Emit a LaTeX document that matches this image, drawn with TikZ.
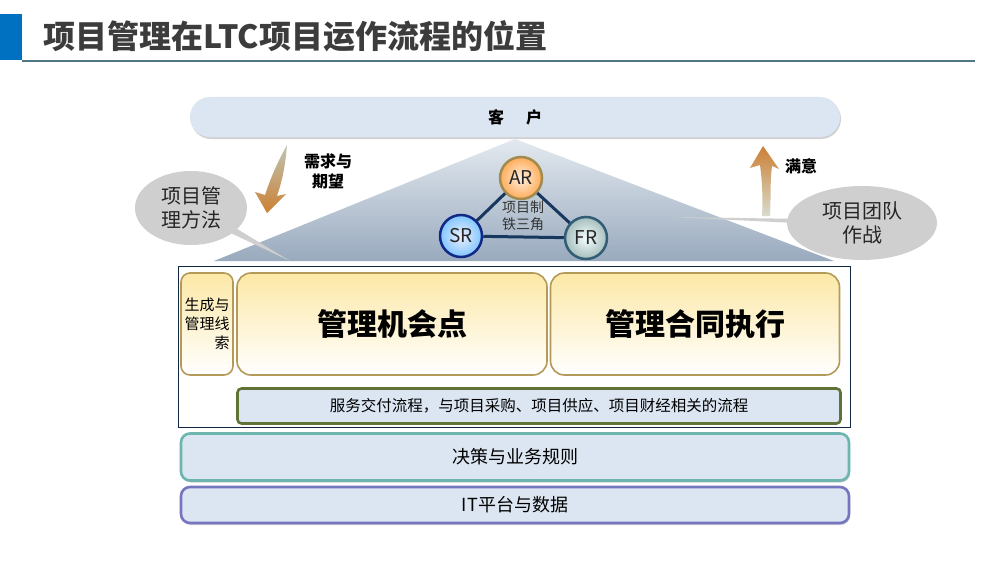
\documentclass[tikz,border=0pt]{standalone}
\usepackage{fontspec}
\setmainfont{Noto Sans CJK SC}
\usetikzlibrary{shapes.callouts,shadows}

\definecolor{titleblue}{HTML}{0070C0}
\definecolor{titlegray}{HTML}{3C3C3C}
\definecolor{titleline}{HTML}{4F7786}
\definecolor{barblue}{HTML}{DCE6F2}
\definecolor{pyrtop}{HTML}{E3E9EF}
\definecolor{pyrbot}{HTML}{99AABE}
\definecolor{ironline}{HTML}{17375E}
\definecolor{bubble}{HTML}{CFCFCF}
\definecolor{goldline}{HTML}{B49A58}
\definecolor{yellowtop}{HTML}{FCE8A6}
\definecolor{olive}{HTML}{5F7337}
\definecolor{teal}{HTML}{6DB5AE}
\definecolor{lilac}{HTML}{7676C0}

\tikzset{
  lightbar/.style={fill=barblue,rounded corners=#1,drop shadow={shadow xshift=1pt,shadow yshift=-2pt,fill=black!35}},
  goldbox/.style={draw=goldline,line width=1.6pt,rounded corners=14pt,top color=yellowtop,bottom color=white},
  ironball/.style={circle,line width=2.5pt,minimum size=42pt,inner sep=0pt,font=\fontsize{19}{19}\selectfont,text=black!85},
  bubblenote/.style={ellipse callout,fill=bubble,callout pointer arc=9,inner sep=0pt,align=center,
    font=\fontsize{20}{24}\selectfont,text=black!85}
}

\begin{document}
\begin{tikzpicture}[x=1pt,y=-1pt]
  \useasboundingbox (0,0) rectangle (984,575);
  \fill[white] (0,0) rectangle (984,575);

  % title
  \fill[titleblue] (0,14) rectangle (22,60);
  \draw[titleline,line width=1.2pt] (22,61) -- (975,61);
  \node[anchor=west,text=titlegray,font=\fontsize{32}{32}\selectfont\bfseries] (title) at (40,36)
    {项目管理在LTC项目运作流程的位置};

  % customer
  \node[lightbar=20pt,minimum width=650pt,minimum height=40pt,font=\fontsize{16}{16}\selectfont\bfseries]
    (kehu) at (515,117) {客\hspace{22pt}户};

  % pyramid
  \coordinate (apex) at (515,139);
  \coordinate (pyrL) at (214,261);
  \coordinate (pyrR) at (834,261);
  \shade[top color=pyrtop,bottom color=pyrbot] (apex) -- (pyrL) -- (pyrR) -- cycle;

  % bubbles
  \coordinate (tipL) at (290,261);
  \coordinate (tipR) at (672,217);
  \node[bubblenote,minimum width=112pt,minimum height=74pt,callout absolute pointer=(tipL)]
    (fangfa) at (191,208) {项目管\\理方法};
  \node[bubblenote,minimum width=150pt,minimum height=74pt,callout absolute pointer=(tipR),callout pointer arc=6]
    (tuandui) at (862,223) {项目团队\\作战};

  % iron triangle
  \node[ironball,draw=goldline!90!black,inner color=orange!12,outer color=orange!65] (AR) at (521,178) {AR};
  \node[ironball,draw=ironline!75!blue,inner color=blue!6,outer color=blue!45!cyan!50] (SR) at (461,236) {SR};
  \node[ironball,draw=ironline!70!teal,inner color=cyan!5,outer color=teal!50!gray!65] (FR) at (586,238) {FR};
  \draw[ironline,line width=3pt] (AR) -- (SR);
  \draw[ironline,line width=3pt] (SR) -- (FR);
  \draw[ironline,line width=3pt] (FR) -- (AR);
  \node[align=center,font=\fontsize{14}{17}\selectfont,text=black!80] (tiesanjiao) at (523,216) {项目制\\铁三角};

  % demand and satisfaction arrows
  \shade[top color=black!25!olive!35,bottom color=brown!80!orange]
    (287,145) .. controls (285,170) and (281,184) .. (277,196) -- (286,194) -- (267,213)
    -- (255,192) -- (265,195) .. controls (270,180) and (276,165) .. (287,145) -- cycle;
  \node[align=center,font=\fontsize{16}{20}\selectfont\bfseries] (xuqiu) at (328,171) {需求与\\期望};
  \shade[top color=brown!80!orange,bottom color=olive!25!white]
    (762,216) -- (770,216) .. controls (771,196) and (770,180) .. (772,166) -- (779,169)
    -- (763,146) -- (750,168) -- (760,165) .. controls (762,180) and (763,196) .. (762,216) -- cycle;
  \node[font=\fontsize{16}{16}\selectfont\bfseries] (manyi) at (801,166) {满意};

  % LTC frame
  \draw[ironline!70!black,line width=0.9pt] (178,266) rectangle (850,427);
  \node[goldbox,rounded corners=9pt,minimum width=52pt,minimum height=102pt,align=right,
    font=\fontsize{15}{19}\selectfont] (xiansuo) at (207,324) {生成与\\管理线\\索};
  \node[goldbox,minimum width=310pt,minimum height=102pt,font=\fontsize{30}{30}\selectfont\bfseries]
    (jihui) at (392,324) {管理机会点};
  \node[goldbox,minimum width=289pt,minimum height=102pt,font=\fontsize{30}{30}\selectfont\bfseries]
    (hetong) at (695,324) {管理合同执行};
  \node[draw=olive,line width=2.6pt,fill=barblue,rounded corners=4pt,minimum width=603pt,minimum height=35pt,
    font=\fontsize{15.5}{15.5}\selectfont] (jiaofu) at (539,406)
    {服务交付流程，与项目采购、项目供应、项目财经相关的流程};

  % support layers
  \node[lightbar=9pt,draw=teal,line width=2.6pt,minimum width=668pt,minimum height=47pt,
    font=\fontsize{18}{18}\selectfont] (guize) at (515,457) {决策与业务规则};
  \node[lightbar=9pt,draw=lilac,line width=2.6pt,minimum width=668pt,minimum height=36pt,
    font=\fontsize{18}{18}\selectfont] (shuju) at (515,505) {IT平台与数据};
\end{tikzpicture}
\end{document}
